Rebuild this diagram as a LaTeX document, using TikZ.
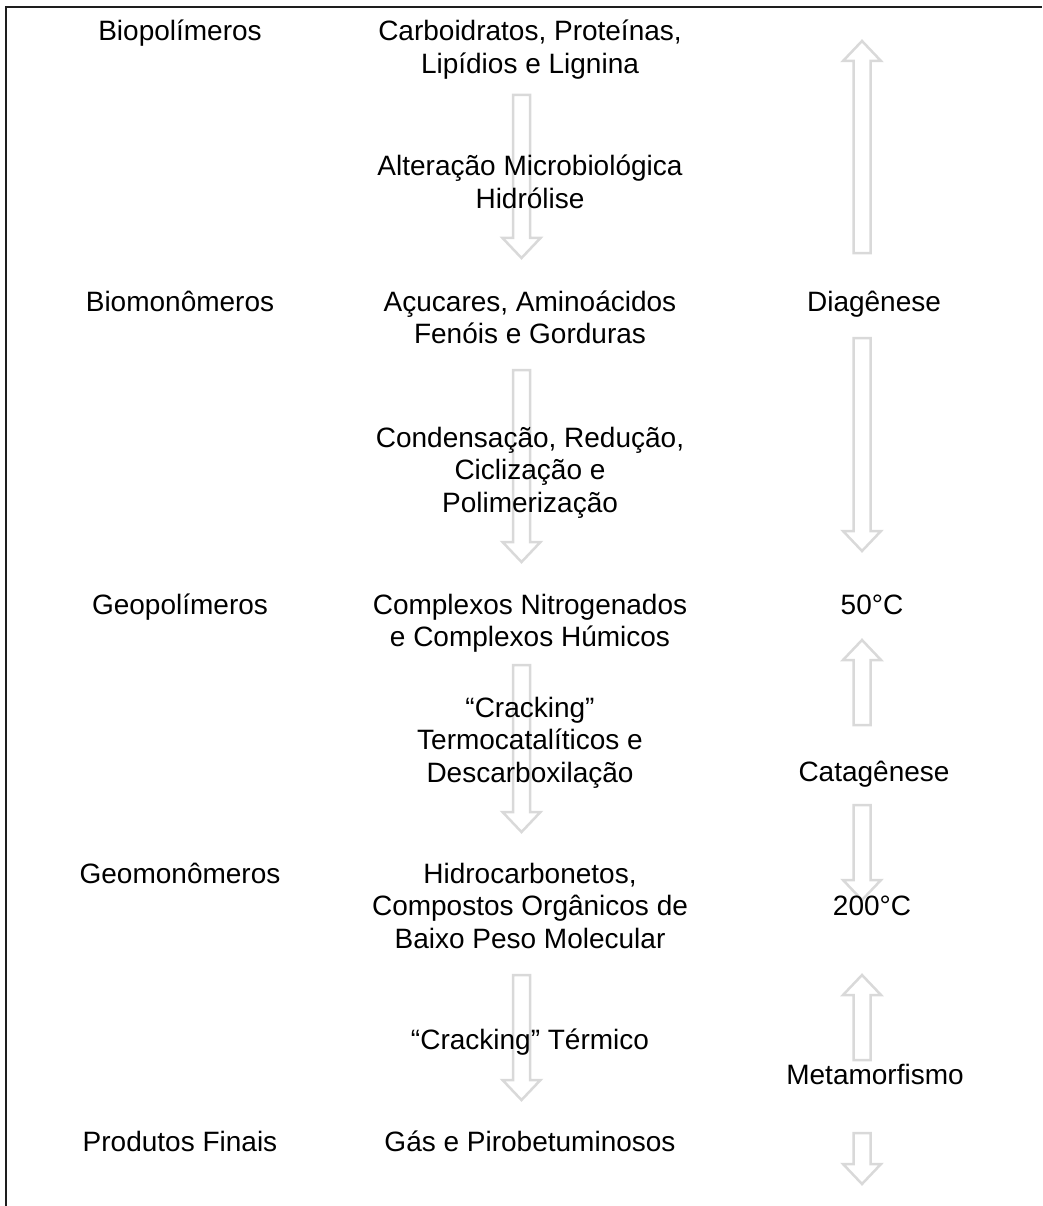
\documentclass[tikz,border=0pt]{standalone}
\usepackage{fontspec}
\setmainfont{Liberation Sans}
\usetikzlibrary{positioning}
\definecolor{arrowGray}{RGB}{217,217,217}
\definecolor{frameGray}{RGB}{30,30,30}
\tikzstyle{stageText}=[anchor=base, align=center, inner sep=0pt, font=\fontsize{28}{32.5}\selectfont]
\tikzstyle{fatArrow}=[draw=arrowGray, line width=2.5pt, line join=miter]
\tikzstyle{frame}=[draw=frameGray, line width=2pt]
\newcommand\arrowDown{}
\def\arrowDown(#1,#2,#3){%
  \draw[fatArrow] (#1-8.5,#2) -- (#1+8.5,#2) -- (#1+8.5,#3-20) -- (#1+19,#3-20)
    -- (#1,#3) -- (#1-19,#3-20) -- (#1-8.5,#3-20) -- cycle;
}
\newcommand\arrowUp{}
\def\arrowUp(#1,#2,#3){%
  \draw[fatArrow] (#1-8.5,#3) -- (#1+8.5,#3) -- (#1+8.5,#2+20) -- (#1+19,#2+20)
    -- (#1,#2) -- (#1-19,#2+20) -- (#1-8.5,#2+20) -- cycle;
}
\begin{document}
\begin{tikzpicture}[x=1pt, y=-1pt]
  \useasboundingbox (0,0) rectangle (1042,1206);
  \draw[frame] (6,1206) -- (6,7) -- (1042,7);
  % arrows (behind the text)
  \arrowDown(521.5,95,258)
  \arrowDown(521.5,370,562)
  \arrowDown(521.5,665,832)
  \arrowDown(521.5,975,1100)
  \arrowUp(862,41,253)
  \arrowDown(862,338,551)
  \arrowUp(862,640,725)
  \arrowDown(862,805,900)
  \arrowUp(862,975,1060)
  \arrowDown(862,1133,1184)
  % stages (base = last line)
  \node[stageText] (bioPoly) at (180,41) {Biopolímeros};
  \node[stageText] (bioMono) at (180,311) {Biomonômeros};
  \node[stageText] (geoPoly) at (180,614) {Geopolímeros};
  \node[stageText] (geoMono) at (180,883) {Geomonômeros};
  \node[stageText] (final) at (180,1151) {Produtos Finais};
  % compounds and processes
  \node[stageText] (carbo) at (530,73.5) {Carboidratos, Proteínas,\\Lipídios e Lignina};
  \node[stageText] (altMicro) at (530,208.5) {Alteração Microbiológica\\Hidrólise};
  \node[stageText] (acucar) at (530,343.5) {Açucares, Aminoácidos\\Fenóis e Gorduras};
  \node[stageText] (conden) at (530,512) {Condensação, Redução,\\Ciclização e\\Polimerização};
  \node[stageText] (complex) at (530,646.5) {Complexos Nitrogenados\\e Complexos Húmicos};
  \node[stageText] (crackCat) at (530,782) {“Cracking”\\Termocatalíticos e\\Descarboxilação};
  \node[stageText] (hidro) at (530,948) {Hidrocarbonetos,\\Compostos Orgânicos de\\Baixo Peso Molecular};
  \node[stageText] (crackTerm) at (530,1049) {“Cracking” Térmico};
  \node[stageText] (gas) at (530,1151) {Gás e Pirobetuminosos};
  % phases
  \node[stageText] (diag) at (874,311) {Diagênese};
  \node[stageText] (t50) at (872,614) {50°C};
  \node[stageText] (catag) at (874,781) {Catagênese};
  \node[stageText] (t200) at (872,915) {200°C};
  \node[stageText] (meta) at (875,1084) {Metamorfismo};
\end{tikzpicture}
\end{document}
